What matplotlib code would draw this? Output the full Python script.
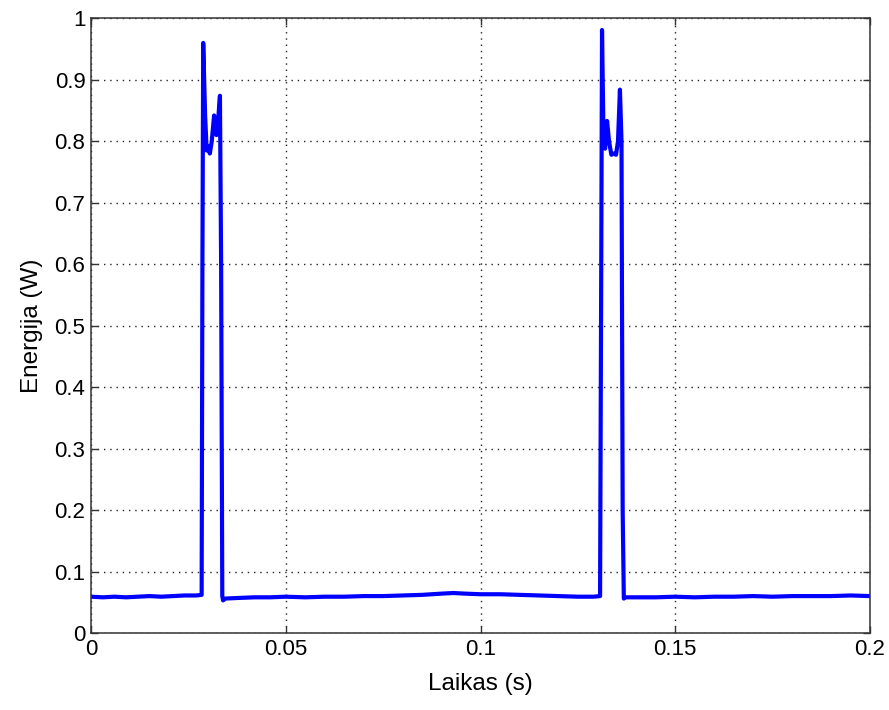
import matplotlib
matplotlib.use("Agg")
import matplotlib.pyplot as plt

# Time (s) and energy (W)
time_s = [
    0.000, 0.003, 0.006, 0.009, 0.012, 0.015, 0.018, 0.021, 0.024, 0.0270, 0.0284,
    0.0286, 0.0288, 0.0293, 0.0297, 0.0301, 0.0305, 0.0310, 0.0316, 0.0322,
    0.0327, 0.0331, 0.0334, 0.0337, 0.0339, 0.0345,
    0.038, 0.042, 0.046, 0.050, 0.055, 0.060, 0.065, 0.070, 0.075, 0.080,
    0.085, 0.090, 0.093, 0.096, 0.100, 0.105, 0.110, 0.115, 0.120, 0.125, 0.1290, 0.1307,
    0.1310, 0.1312, 0.1316, 0.1320, 0.1325, 0.1330, 0.1336, 0.1342, 0.1348, 0.1353,
    0.1358, 0.1362, 0.1365, 0.1368, 0.1373,
    0.140, 0.145, 0.150, 0.155, 0.160, 0.165, 0.170, 0.175, 0.180, 0.185, 0.190, 0.195, 0.200,
]
energy_w = [
    0.059, 0.058, 0.059, 0.058, 0.059, 0.060, 0.059, 0.060, 0.061, 0.061, 0.062,
    0.600, 0.960, 0.840, 0.785, 0.792, 0.780, 0.800, 0.842, 0.810,
    0.840, 0.874, 0.600, 0.060, 0.053, 0.056,
    0.057, 0.058, 0.058, 0.059, 0.058, 0.059, 0.059, 0.060, 0.060, 0.061,
    0.062, 0.064, 0.065, 0.064, 0.063, 0.063, 0.062, 0.061, 0.060, 0.059, 0.059, 0.060,
    0.600, 0.981, 0.800, 0.788, 0.833, 0.800, 0.778, 0.780, 0.778, 0.800,
    0.884, 0.800, 0.200, 0.056, 0.058,
    0.058, 0.058, 0.059, 0.058, 0.059, 0.059, 0.060, 0.059, 0.060, 0.060, 0.060, 0.061, 0.060,
]

x_ticks = [0, 0.05, 0.1, 0.15, 0.2]
x_tick_labels = ["0", "0.05", "0.1", "0.15", "0.2"]
y_ticks = [0, 0.1, 0.2, 0.3, 0.4, 0.5, 0.6, 0.7, 0.8, 0.9, 1.0]
y_tick_labels = ["0", "0.1", "0.2", "0.3", "0.4", "0.5", "0.6", "0.7", "0.8", "0.9", "1"]

plt.rcParams['font.family'] = ['Liberation Sans', 'DejaVu Sans']

fig = plt.figure(figsize=(8.89, 7.10), dpi=100)
ax = fig.add_axes([0.1024, 0.1085, 0.8762, 0.8657])

ax.plot(time_s, energy_w, color="#0000ff", linewidth=3.0, solid_joinstyle="round")

ax.set_xlim(0, 0.2)
ax.set_ylim(0, 1)
ax.set_xticks(x_ticks)
ax.set_xticklabels(x_tick_labels)
ax.set_yticks(y_ticks)
ax.set_yticklabels(y_tick_labels)
ax.tick_params(direction="in", top=True, right=True, length=5, width=1,
               labelsize=16, pad=4, color="#333333")
ax.grid(True, color="#222222", linestyle=(0, (1, 3.5)), linewidth=1.0)
for s in ax.spines.values():
    s.set_linewidth(1.1)
    s.set_color("#333333")
ax.set_xlabel("Laikas (s)", fontsize=17.5, labelpad=10)
ax.set_ylabel("Energija (W)", fontsize=17.5, labelpad=8)

fig.savefig("out.png", dpi=100, facecolor="white")
